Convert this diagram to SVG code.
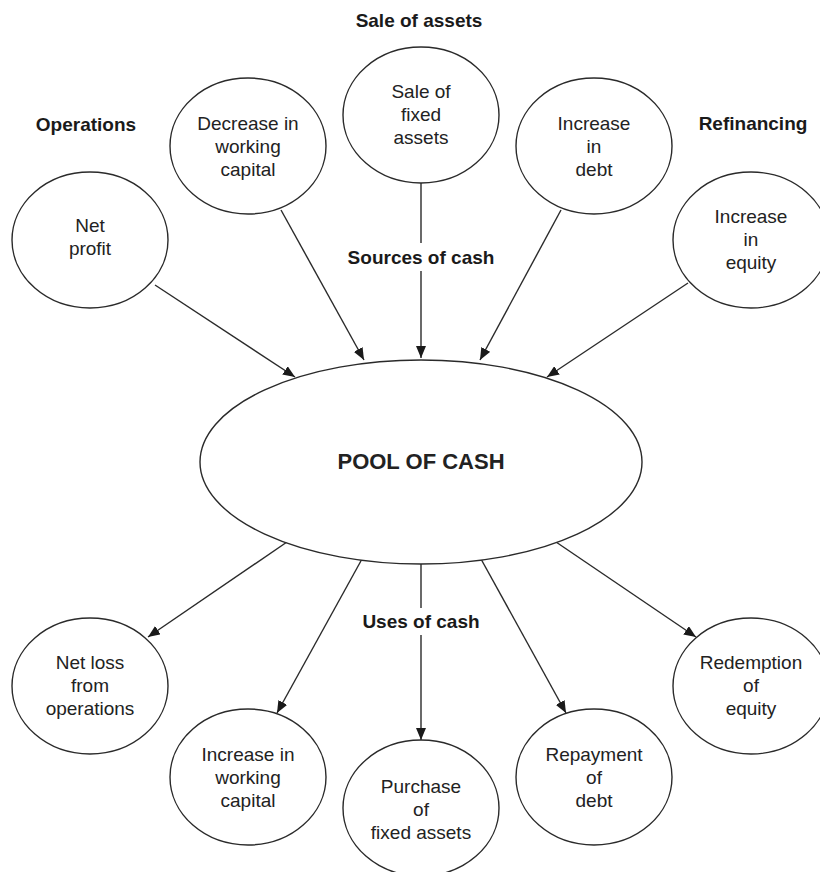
<svg xmlns="http://www.w3.org/2000/svg" width="820" height="872" viewBox="0 0 820 872">
<defs>
<marker id="arr" viewBox="0 0 12 10" refX="12" refY="5" markerWidth="12" markerHeight="10" markerUnits="userSpaceOnUse" orient="auto">
<path d="M0,0 L12,5 L0,10 Z" fill="#1a1a1a"/>
</marker>
<style>
.node ellipse{fill:#fff;stroke:#2a2a2a;stroke-width:1.4}
.node text{font-family:"Liberation Sans",Arial,sans-serif;font-size:19px;fill:#222;text-anchor:middle}
.lbl{font-family:"Liberation Sans",Arial,sans-serif;font-size:19px;font-weight:bold;fill:#1a1a1a;text-anchor:middle}
.edge{stroke:#2a2a2a;stroke-width:1.4;fill:none}
.arrow{marker-end:url(#arr)}
</style>
</defs>
<rect width="820" height="872" fill="#fff"/>

<g id="connectors">
<line class="edge arrow" x1="155" y1="285" x2="295" y2="377"/>
<line class="edge arrow" x1="281" y1="210" x2="364" y2="360"/>
<line class="edge" x1="421" y1="183" x2="421" y2="243"/>
<line class="edge arrow" x1="421" y1="271" x2="421" y2="358"/>
<line class="edge arrow" x1="561" y1="210" x2="480" y2="360"/>
<line class="edge arrow" x1="688" y1="283" x2="547" y2="377"/>
<line class="edge arrow" x1="287" y1="542" x2="148" y2="637"/>
<line class="edge arrow" x1="362" y1="559" x2="277" y2="713"/>
<line class="edge" x1="421" y1="563" x2="421" y2="608"/>
<line class="edge arrow" x1="421" y1="635" x2="421" y2="740"/>
<line class="edge arrow" x1="481" y1="559" x2="566" y2="713"/>
<line class="edge arrow" x1="556" y1="542" x2="696" y2="637"/>
</g>

<g id="labels">
<text class="lbl" x="419" y="27">Sale of assets</text>
<text class="lbl" x="86" y="131">Operations</text>
<text class="lbl" x="753" y="130">Refinancing</text>
<text class="lbl" x="421" y="264">Sources of cash</text>
<text class="lbl" x="421" y="628">Uses of cash</text>
</g>

<g id="pool" class="node">
<ellipse cx="421" cy="462" rx="221" ry="102"/>
<text x="421" y="469" style="font-size:22px;font-weight:bold">POOL OF CASH</text>
</g>

<g id="net-profit" class="node">
<ellipse cx="90" cy="240" rx="78" ry="68"/>
<text x="90" y="232">Net</text>
<text x="90" y="255">profit</text>
</g>

<g id="decrease-wc" class="node">
<ellipse cx="248" cy="146" rx="78" ry="68"/>
<text x="248" y="130">Decrease in</text>
<text x="248" y="153">working</text>
<text x="248" y="176">capital</text>
</g>

<g id="sale-fixed-assets" class="node">
<ellipse cx="421" cy="115" rx="78" ry="68"/>
<text x="421" y="98">Sale of</text>
<text x="421" y="121">fixed</text>
<text x="421" y="144">assets</text>
</g>

<g id="increase-debt" class="node">
<ellipse cx="594" cy="146" rx="78" ry="68"/>
<text x="594" y="130">Increase</text>
<text x="594" y="153">in</text>
<text x="594" y="176">debt</text>
</g>

<g id="increase-equity" class="node">
<ellipse cx="751" cy="240" rx="78" ry="68"/>
<text x="751" y="223">Increase</text>
<text x="751" y="246">in</text>
<text x="751" y="269">equity</text>
</g>

<g id="net-loss" class="node">
<ellipse cx="90" cy="686" rx="78" ry="68"/>
<text x="90" y="669">Net loss</text>
<text x="90" y="692">from</text>
<text x="90" y="715">operations</text>
</g>

<g id="increase-wc" class="node">
<ellipse cx="248" cy="777" rx="78" ry="68"/>
<text x="248" y="761">Increase in</text>
<text x="248" y="784">working</text>
<text x="248" y="807">capital</text>
</g>

<g id="purchase-fixed-assets" class="node">
<ellipse cx="421" cy="808" rx="78" ry="68"/>
<text x="421" y="793">Purchase</text>
<text x="421" y="816">of</text>
<text x="421" y="839">fixed assets</text>
</g>

<g id="repayment-debt" class="node">
<ellipse cx="594" cy="777" rx="78" ry="68"/>
<text x="594" y="761">Repayment</text>
<text x="594" y="784">of</text>
<text x="594" y="807">debt</text>
</g>

<g id="redemption-equity" class="node">
<ellipse cx="751" cy="686" rx="78" ry="68"/>
<text x="751" y="669">Redemption</text>
<text x="751" y="692">of</text>
<text x="751" y="715">equity</text>
</g>
</svg>
